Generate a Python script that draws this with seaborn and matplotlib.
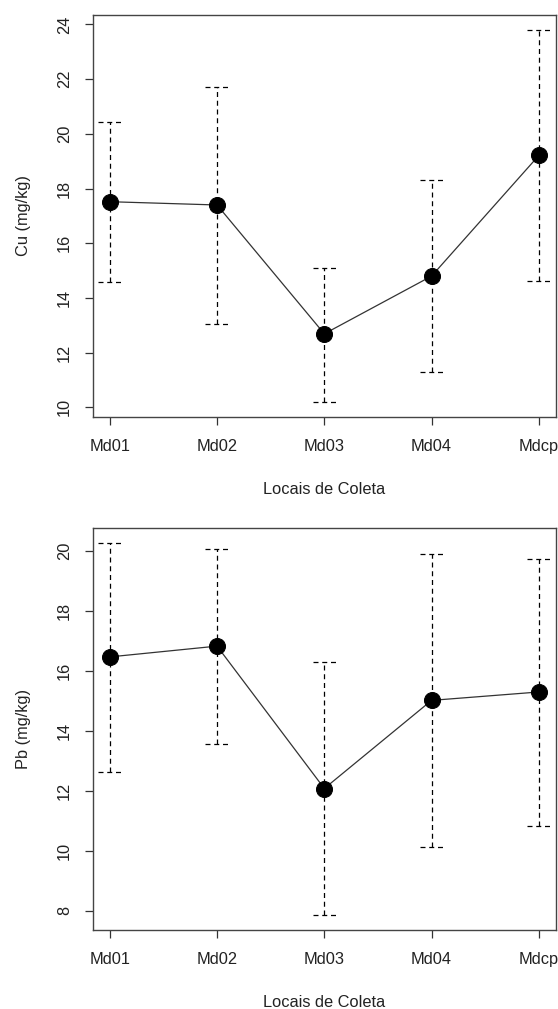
import numpy as np
import pandas as pd
import matplotlib
matplotlib.use("Agg")
import matplotlib.pyplot as plt
import seaborn as sns

# sampling sites
locais = ["Md01", "Md02", "Md03", "Md04", "Mdcp"]

# Cu (mg/kg): mean and interval limits
cu_mean = [17.52, 17.40, 12.69, 14.80, 19.21]
cu_upper = [20.44, 21.72, 15.10, 18.30, 23.80]
cu_lower = [14.57, 13.04, 10.21, 11.28, 14.62]

# Pb (mg/kg): mean and interval limits
pb_mean = [16.47, 16.83, 12.08, 15.02, 15.30]
pb_upper = [20.28, 20.07, 16.31, 19.89, 19.74]
pb_lower = [12.64, 13.57, 7.85, 10.13, 10.82]

cu_ticks = [10, 12, 14, 16, 18, 20, 22, 24]
pb_ticks = [8, 10, 12, 14, 16, 18, 20]

sns.set_style("ticks")
plt.rcParams['font.family'] = ['Liberation Sans', 'DejaVu Sans']

fig = plt.figure(figsize=(5.58, 10.09), dpi=100)
ax_cu = fig.add_axes([0.166, 0.587, 0.8304, 0.398])
ax_pb = fig.add_axes([0.166, 0.0783, 0.8304, 0.3987])


def draw_panel(ax, mean, upper, lower, ticks, ylim, ylabel, xlab_y):
    df = pd.DataFrame({"pos": np.arange(len(locais)), "mean": mean,
                       "upper": upper, "lower": lower})

    # dashed interval bars with dashed caps
    ax.vlines(df["pos"], df["lower"], df["upper"], colors="black",
              linestyles=(0, (4, 3)), linewidth=0.9, zorder=1)
    for col in ["upper", "lower"]:
        ax.hlines(df[col], df["pos"] - 0.11, df["pos"] + 0.11, colors="black",
                  linestyles=(0, (4, 3)), linewidth=0.9, zorder=1)

    sns.lineplot(data=df, x="pos", y="mean", ax=ax, color="#333333",
                 linewidth=0.9, marker="o", markersize=11.5,
                 markerfacecolor="black", markeredgecolor="black", zorder=3)

    ax.set_xlim(-0.16, 4.16)
    ax.set_ylim(*ylim)
    ax.set_xticks(df["pos"])
    ax.set_xticklabels(locais)
    ax.set_yticks(ticks)
    ax.set_yticklabels([str(t) for t in ticks], rotation=90, va="center")
    ax.tick_params(axis="both", labelsize=11.8, length=6, width=0.9,
                   color="#333333", labelcolor="#222222")
    ax.tick_params(axis="x", pad=10)
    ax.tick_params(axis="y", pad=9)
    for sp in ax.spines.values():
        sp.set_visible(True)
        sp.set_color("#444444")
        sp.set_linewidth(1.0)

    ax.set_xlabel("Locais de Coleta", fontsize=11.8, color="#222222")
    ax.set_ylabel(ylabel, fontsize=11.8, color="#222222")
    ax.xaxis.set_label_coords(0.5, xlab_y)
    ax.xaxis.label.set_va("center")
    ax.yaxis.set_label_coords(-0.150, 0.5)
    ax.yaxis.label.set_va("center")


draw_panel(ax_cu, cu_mean, cu_upper, cu_lower, cu_ticks, (9.66, 24.34),
           "Cu (mg/kg)", -0.182)
draw_panel(ax_pb, pb_mean, pb_upper, pb_lower, pb_ticks, (7.36, 20.78),
           "Pb (mg/kg)", -0.179)

fig.savefig("out.png", dpi=100)
